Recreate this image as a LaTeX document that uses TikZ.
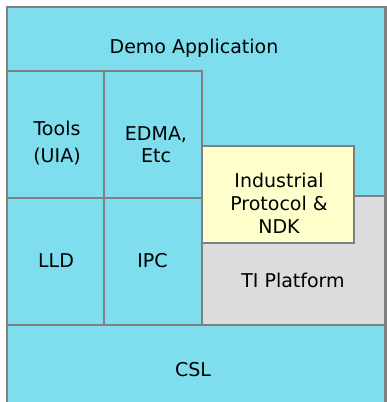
\documentclass[tikz,border=0pt]{standalone}
\usepackage{fontspec}
\setmainfont{DejaVu Sans}
\definecolor{layercyan}{RGB}{126,222,237}
\definecolor{layeryellow}{RGB}{255,255,204}
\definecolor{layergray}{RGB}{220,220,220}
\definecolor{layeredge}{RGB}{128,128,128}
\begin{document}
\begin{tikzpicture}[x=1pt,y=-1pt,
  layer/.style={draw=layeredge, line width=2.4pt, fill=layercyan},
  lbl/.style={font=\fontsize{19}{22}\selectfont, text=black, align=center, inner sep=0pt}]
\useasboundingbox (0,0) rectangle (386,402);
% software stack layers
\filldraw[layer] (7,7) rectangle (385.5,197);
\filldraw[layer] (7,71) rectangle (104,198);
\filldraw[layer] (104,71) rectangle (202,198);
\filldraw[layer] (7,198) rectangle (104,325);
\filldraw[layer] (104,198) rectangle (202,325);
\filldraw[layer, fill=layergray] (202,196) rectangle (385.5,325);
\filldraw[layer, fill=layeryellow] (202,146) rectangle (354,243);
\filldraw[layer] (7,325) rectangle (385.5,410);
% labels
\node[lbl] (demo) at (194,48) {Demo Application};
\node[lbl] (tools) at (57,128) {Tools};
\node[lbl] (uia) at (57,157) {(UIA)};
\node[lbl] (edma) at (156,145) {EDMA,\\[0pt]Etc};
\node[lbl, font=\fontsize{19}{23}\selectfont] (ndk) at (279,203) {Industrial\\Protocol \&\\NDK};
\node[lbl] (lld) at (56,261) {LLD};
\node[lbl] (ipc) at (152.5,261) {IPC};
\node[lbl] (ti) at (293,280) {TI Platform};
\node[lbl] (csl) at (193,370) {CSL};
\end{tikzpicture}
\end{document}
